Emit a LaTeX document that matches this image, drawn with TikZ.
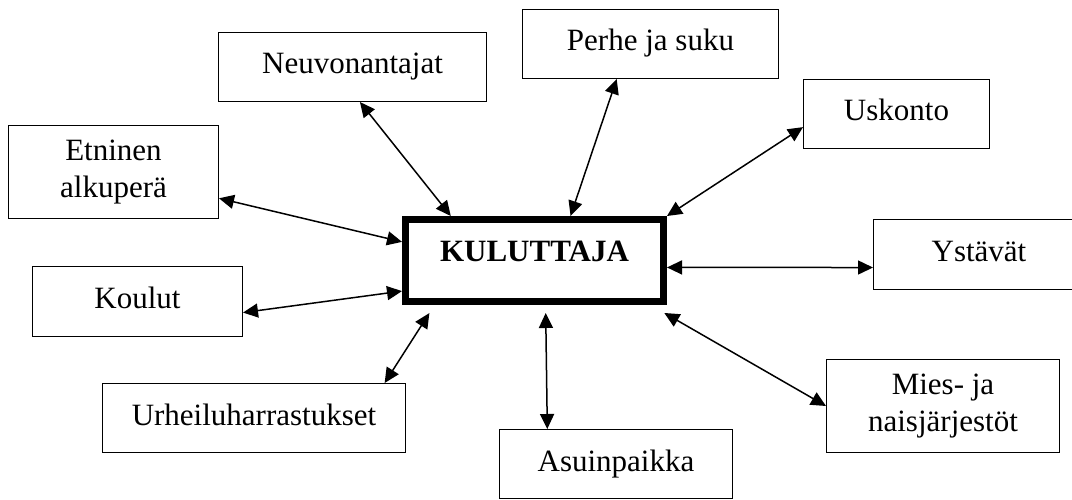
\documentclass[tikz,border=0pt]{standalone}
\usepackage{fontspec}
\setmainfont{Liberation Serif}
\usetikzlibrary{arrows.meta}

\tikzset{
  factor/.style={draw, line width=1.4pt, align=center, inner sep=0pt},
  oneline/.style={text height=21pt, text depth=7pt},
  consumer/.style={draw, line width=7pt, inner sep=0pt, text height=21pt, text depth=19pt,
    font=\fontsize{31}{37}\selectfont\bfseries},
  link/.style={>={Triangle[length=15pt,width=14pt]}, <->, line width=1.5pt},
}

\begin{document}
\begin{tikzpicture}[x=1pt, y=-1pt, font=\fontsize{31}{37}\selectfont]
  \useasboundingbox (0,0) rectangle (1072,500);
  \clip (0,0) rectangle (1072,500);

  % Consumer in the middle
  \node[consumer, minimum width=258pt, minimum height=82pt] (kul) at (534.5,260.5) {KULUTTAJA};

  % Groups around the consumer
  \node[factor, oneline, minimum width=267.6pt, minimum height=68.6pt] (neuv) at (352.5,67) {Neuvonantajat};
  \node[factor, oneline, minimum width=255.6pt, minimum height=68.6pt] (perhe) at (650.5,44) {Perhe ja suku};
  \node[factor, oneline, minimum width=185.6pt, minimum height=68.6pt] (uskonto) at (896.5,114) {Uskonto};
  \node[factor, minimum width=209.6pt, minimum height=92.6pt] (etninen) at (113.5,172) {Etninen\\alkuperä};
  \node[factor, oneline, minimum width=210.6pt, minimum height=69.6pt] (ystavat) at (979,254.5) {Ystävät};
  \node[factor, oneline, minimum width=209.6pt, minimum height=69.6pt] (koulut) at (137.5,301.5) {Koulut};
  \node[factor, oneline, minimum width=302.6pt, minimum height=68.6pt] (urheilu) at (254,418) {Urheiluharrastukset};
  \node[factor, oneline, minimum width=232.6pt, minimum height=68.6pt] (asuin) at (616,464) {Asuinpaikka};
  \node[factor, minimum width=232.6pt, minimum height=92.6pt] (mies) at (943,406) {Mies- ja\\naisjärjestöt};

  % Two-way arrows
  \draw[link] (neuv.-78) -- (kul.152);
  \draw[link] (perhe.-134) -- (kul.51);
  \draw[link] (uskonto.-172) -- (kul.north east);
  \draw[link] (etninen.-14) -- (kul.172);
  \draw[link] (ystavat.-173) -- (kul.-3);
  \draw[link] (koulut.-6) -- (kul.-167);
  \draw[link, shorten >=9.6pt] (urheilu.15) -- (kul.-156);
  \draw[link, shorten >=8pt] (asuin.153) -- (kul.-76);
  \draw[link, shorten >=16pt] (mies.180) -- (kul.-21);
\end{tikzpicture}
\end{document}
